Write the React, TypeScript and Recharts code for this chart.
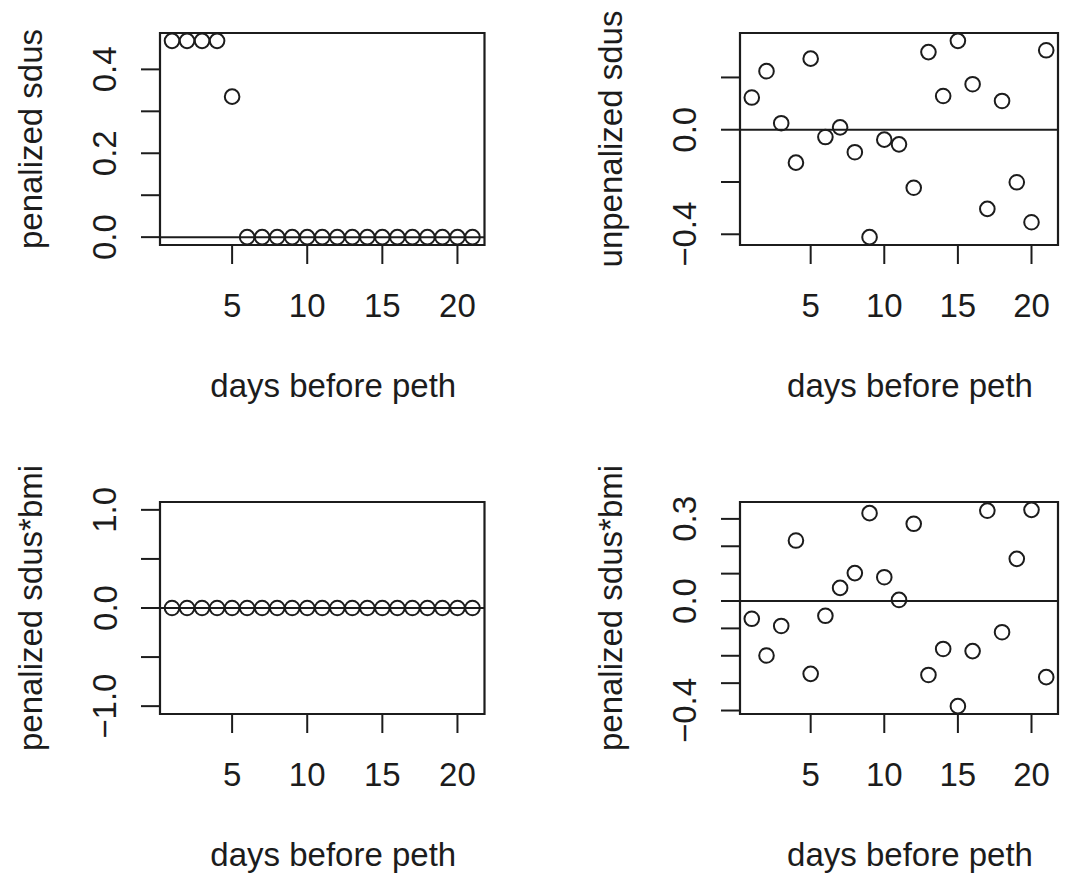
import React from 'react'
import {
  ScatterChart,
  Scatter,
  XAxis,
  YAxis,
  ReferenceLine,
  ReferenceArea
} from 'recharts'

// days before peth, 1..21
const days = [1, 2, 3, 4, 5, 6, 7, 8, 9, 10, 11, 12, 13, 14, 15, 16, 17, 18, 19, 20, 21]

const penalizedSdus = [
  0.468, 0.468, 0.468, 0.468, 0.335, 0, 0, 0, 0, 0, 0, 0, 0, 0, 0, 0, 0, 0, 0, 0, 0
]
const unpenalizedSdus = [
  0.123, 0.224, 0.025, -0.126, 0.272, -0.028, 0.009, -0.086, -0.411, -0.038, -0.056,
  -0.222, 0.297, 0.129, 0.340, 0.174, -0.303, 0.110, -0.201, -0.354, 0.304
]
const penalizedSdusBmiLeft = [
  0, 0, 0, 0, 0, 0, 0, 0, 0, 0, 0, 0, 0, 0, 0, 0, 0, 0, 0, 0, 0
]
const penalizedSdusBmiRight = [
  -0.065, -0.199, -0.091, 0.221, -0.266, -0.054, 0.048, 0.102, 0.321, 0.087, 0.004,
  0.282, -0.270, -0.175, -0.384, -0.183, 0.330, -0.114, 0.154, 0.333, -0.278
]

const xTicks = [5, 10, 15, 20]
const xTickLabels = ['5', '10', '15', '20']

const yTicksTL = [0, 0.1, 0.2, 0.3, 0.4]
const yTickLabelsTL = ['0.0', '', '0.2', '', '0.4']
const yTicksTR = [-0.4, -0.2, 0, 0.2]
const yTickLabelsTR = ['\u22120.4', '', '0.0', '']
const yTicksBL = [-1, -0.5, 0, 0.5, 1]
const yTickLabelsBL = ['\u22121.0', '', '0.0', '', '1.0']
const yTicksBR = [-0.4, -0.3, -0.2, -0.1, 0, 0.1, 0.2, 0.3]
const yTickLabelsBR = ['\u22120.4', '', '', '', '0.0', '', '', '0.3']

const INK = '#1c1c1c'
const FONT = '"Liberation Sans", Arial, Helvetica, sans-serif'
const FS = 33

// R's default axis limits: data range padded by 4% on each side
const rLimits = (vals: number[]): [number, number] => {
  let lo = Math.min(...vals)
  let hi = Math.max(...vals)
  if (lo === hi) {
    if (lo === 0) { lo = -1; hi = 1 } else { lo -= Math.abs(lo) * 0.4; hi += Math.abs(hi) * 0.4 }
  }
  const pad = (hi - lo) * 0.04
  return [lo - pad, hi + pad]
}

const Ring = (props: any) => {
  const { cx, cy } = props
  if (cx == null || cy == null) return null
  return <circle cx={cx} cy={cy} r={7.3} fill="none" stroke={INK} strokeWidth={2} />
}

interface PanelProps {
  left: number
  top: number
  width: number
  plotWidth: number
  values: number[]
  yTicks: number[]
  yTickLabels: string[]
  yLabel: string
}

// extra room above each plot so long rotated y labels are not clipped
const HEADROOM = 40

function Panel({ left, top, width, plotWidth, values, yTicks, yTickLabels, yLabel }: PanelProps) {
  const data = days.map((d, i) => ({ day: d, v: values[i] }))
  const xDomain = rLimits(days)
  const yDomain = rLimits(values)
  const height = 440 + HEADROOM
  const marginTop = 33 + HEADROOM
  const axisH = 100
  const axisW = 160
  const plotH = 212

  const XTick = ({ x, y, index }: any) => (
    <text x={x} y={y + 53} textAnchor="middle" fill={INK} fontSize={FS} fontFamily={FONT}>
      {xTickLabels[index]}
    </text>
  )

  const YTick = ({ x, y, index }: any) => {
    const label = yTickLabels[index]
    if (!label) return null
    const bx = x - 24.5
    return (
      <text x={bx} y={y} transform={`rotate(-90 ${bx} ${y})`} textAnchor="middle"
        fill={INK} fontSize={FS} fontFamily={FONT}>
        {label}
      </text>
    )
  }

  return (
    <div style={{ position: 'absolute', left, top: top - HEADROOM }}>
      <ScatterChart
        width={width}
        height={height}
        margin={{
          top: marginTop,
          right: width - axisW - plotWidth,
          left: 0,
          bottom: height - marginTop - plotH - axisH
        }}
      >
        <XAxis
          type="number"
          dataKey="day"
          domain={xDomain}
          ticks={xTicks}
          interval={0}
          height={axisH}
          axisLine={false}
          tickSize={19}
          tickMargin={0}
          tickLine={{ stroke: INK, strokeWidth: 2 }}
          tick={<XTick />}
          label={{
            content: ({ viewBox }: any) => (
              <text x={viewBox.x + viewBox.width / 2 + 11} y={viewBox.y + 152} textAnchor="middle"
                fill={INK} fontSize={FS} fontFamily={FONT}>
                days before peth
              </text>
            )
          }}
        />
        <YAxis
          type="number"
          dataKey="v"
          domain={yDomain}
          ticks={yTicks}
          interval={0}
          width={axisW}
          axisLine={false}
          tickSize={19}
          tickMargin={0}
          tickLine={{ stroke: INK, strokeWidth: 2 }}
          tick={<YTick />}
          label={{
            content: ({ viewBox }: any) => {
              const lx = viewBox.x + viewBox.width - 118
              const ly = viewBox.y + viewBox.height / 2
              return (
                <text x={lx} y={ly} transform={`rotate(-90 ${lx} ${ly})`} textAnchor="middle"
                  fill={INK} fontSize={FS} fontFamily={FONT}>
                  {yLabel}
                </text>
              )
            }
          }}
        />
        <ReferenceArea
          x1={xDomain[0]}
          x2={xDomain[1]}
          y1={yDomain[0]}
          y2={yDomain[1]}
          fill="none"
          fillOpacity={0}
          stroke={INK}
          strokeWidth={2.2}
        />
        <ReferenceLine y={0} stroke={INK} strokeWidth={2} />
        <Scatter data={data} shape={<Ring />} isAnimationActive={false} />
      </ScatterChart>
    </div>
  )
}

export default function App() {
  return (
    <div style={{ position: 'relative', width: 1089, height: 879, background: '#fff', overflow: 'hidden' }}>
      <style>{'body{margin:0}'}</style>
      <Panel left={0} top={0} width={545} plotWidth={324.5} values={penalizedSdus}
        yTicks={yTicksTL} yTickLabels={yTickLabelsTL} yLabel="penalized sdus" />
      <Panel left={580} top={0} width={509} plotWidth={318} values={unpenalizedSdus}
        yTicks={yTicksTR} yTickLabels={yTickLabelsTR} yLabel="unpenalized sdus" />
      <Panel left={0} top={469} width={545} plotWidth={324.5} values={penalizedSdusBmiLeft}
        yTicks={yTicksBL} yTickLabels={yTickLabelsBL} yLabel="penalized sdus*bmi" />
      <Panel left={580} top={469} width={509} plotWidth={318} values={penalizedSdusBmiRight}
        yTicks={yTicksBR} yTickLabels={yTickLabelsBR} yLabel="penalized sdus*bmi" />
    </div>
  )
}
